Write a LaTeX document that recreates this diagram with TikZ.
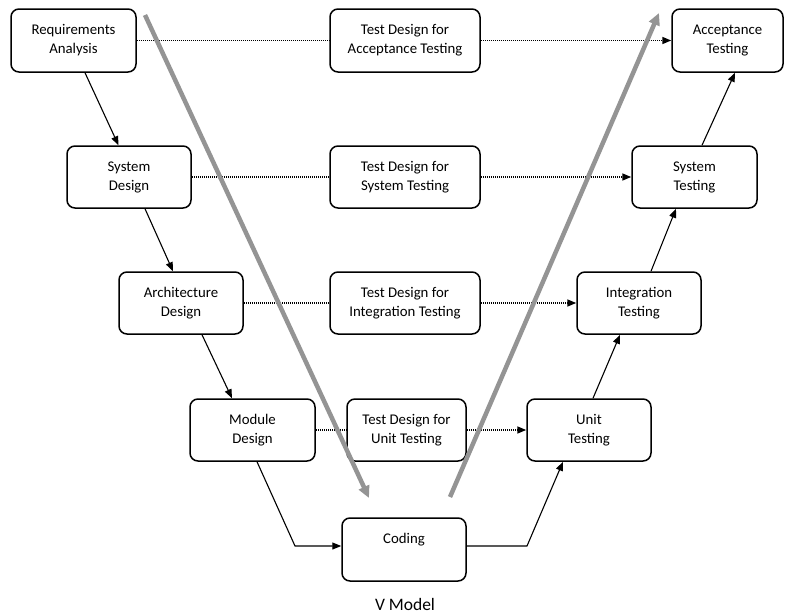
\documentclass[tikz,border=0pt]{standalone}
\usepackage{fontspec}
\setmainfont{Carlito}
\usetikzlibrary{arrows.meta}
\begin{document}
\begin{tikzpicture}[x=1pt,y=-1pt,
  box/.style={draw,line width=1.5pt,rounded corners=8pt,minimum width=124pt,minimum height=62pt,inner sep=0pt,align=center,font=\fontsize{14.8}{19}\selectfont},
  tdbox/.style={box,minimum width=150pt},
  flow/.style={line width=1.1pt,-{Triangle[length=9pt,width=7pt]}},
  dots/.style={line width=1.6pt,dash pattern=on 1.2pt off 0.8pt},
  darr/.style={dots,-{Triangle[length=9pt,width=7pt]}},
  vline/.style={line width=4.5pt,draw=black!42,-{Triangle[length=12pt,width=11pt]}}
]
\useasboundingbox (0,0) rectangle (785,616);
\node[box,minimum width=125pt,minimum height=63pt] (req) at (73.5,40.5) {Requirements\\Analysis};
\node[box] (sd) at (129,177) {System\\Design};
\node[box] (ad) at (181,303) {Architecture\\Design};
\node[box,minimum width=125pt] (md) at (252.5,430) {Module\\Design};
\node[box,minimum height=63pt] (cod) at (404,549.5) {Coding\\[-2pt]\strut};
\node[box] (ut) at (589,430) {Unit\\Testing};
\node[box] (it) at (639,303) {Integration\\Testing};
\node[box,minimum width=125pt] (st) at (694.5,177) {System\\Testing};
\node[box,minimum width=111pt,minimum height=63pt] (at) at (727.5,40.5) {Acceptance\\Testing};
\node[tdbox,minimum height=63pt] (tda) at (405,40.5) {Test Design for\\Acceptance Testing};
\node[tdbox] (tds) at (405,177) {Test Design for\\System Testing};
\node[tdbox] (tdi) at (405,303) {Test Design for\\Integration Testing};
\node[box,minimum width=119pt] (tdu) at (406.5,430) {Test Design for\\Unit Testing};
\node[font=\fontsize{17.5}{20}\selectfont,inner sep=0pt] (title) at (405,604) {V Model};
% dotted
\draw[dots] (req) -- (tda);
\draw[darr] (tda) -- (at);
\draw[dots] (sd) -- (tds);
\draw[darr] (tds) -- (st);
\draw[dots] (ad) -- (tdi);
\draw[darr] (tdi) -- (it);
\draw[dots] (md) -- (tdu);
\draw[darr] (tdu) -- (ut);
% flow
\draw[flow] ([xshift=11.5pt]req.south) -- ([xshift=-10.5pt]sd.north);
\draw[flow] ([xshift=16pt]sd.south) -- ([xshift=-8pt]ad.north);
\draw[flow] ([xshift=21pt]ad.south) -- ([xshift=-20.5pt]md.north);
\coordinate (k1) at (295,546);
\coordinate (k2) at (527,546);
\draw[flow] ([xshift=4.5pt]md.south) -- (k1) -- (cod.west |- k1);
\draw[flow] (cod.east |- k2) -- (k2) -- ([xshift=-26pt]ut.north |- ut.south);
\draw[flow] ([xshift=4pt]ut.north) -- ([xshift=-19pt]it.south);
\draw[flow] ([xshift=12pt]it.north) -- ([xshift=-18.5pt]st.south);
\draw[flow] ([xshift=7.5pt]st.north) -- ([xshift=7.5pt]at.south);
% V arrows
\coordinate (g1) at (145,15);
\coordinate (g2) at (369,498);
\coordinate (g3) at (450,497);
\coordinate (g4) at (659,13);
\draw[vline] (g1) -- (g2);
\draw[vline] (g3) -- (g4);
\end{tikzpicture}
\end{document}
